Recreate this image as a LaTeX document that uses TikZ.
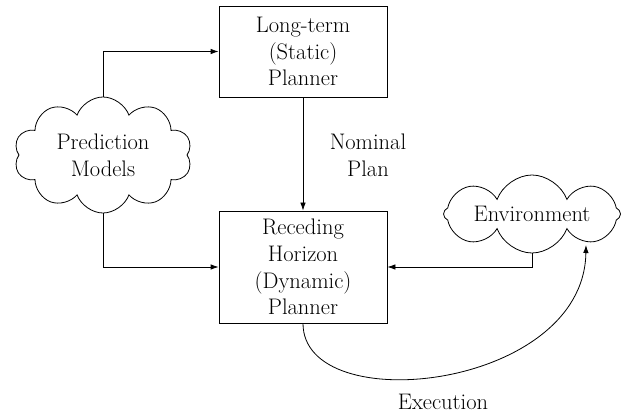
\documentclass[tikz,border=0pt]{standalone}
\usetikzlibrary{shapes.symbols,arrows.meta}
\begin{document}
\begin{tikzpicture}[x=1pt,y=1pt,
  every node/.style={font=\rmfamily\fontsize{22.5}{26.7}\selectfont, align=center},
  planbox/.style={draw, line width=0.8pt, minimum width=168pt, inner sep=0pt},
  puff/.style={draw, cloud, cloud ignores aspect, cloud puff arc=140, line width=0.8pt, inner sep=0pt},
  conn/.style={line width=0.8pt, -{Latex[length=8pt,width=5.5pt]}}]
\useasboundingbox (0,0) rectangle (629,-414);
\node[planbox, minimum height=91pt] (top) at (303,-51.5) {Long-term\\(Static)\\Planner};
\node[planbox, minimum height=112pt] (bot) at (303,-267) {Receding\\Horizon\\(Dynamic)\\Planner};
\node[puff, cloud puffs=10, minimum width=178pt, minimum height=116pt] (pred) at (103,-155) {Prediction\\Models};
\node[puff, cloud puffs=8, minimum width=177pt, minimum height=78pt] (env) at (532,-214) {Environment};
\coordinate (envin) at (586,-245);
\node (nom) at (368,-155) {Nominal\\Plan};
\node (exe) at (443,-402) {Execution};
\draw[conn] (pred.north) |- (top.west);
\draw[conn] (pred.south) |- (bot.west);
\draw[conn] (top.south) -- (bot.north);
\draw[conn] (env.south) |- (bot.east);
\draw[conn] (bot.south) .. controls (303,-420) and (584,-390) .. (envin);
\end{tikzpicture}
\end{document}
